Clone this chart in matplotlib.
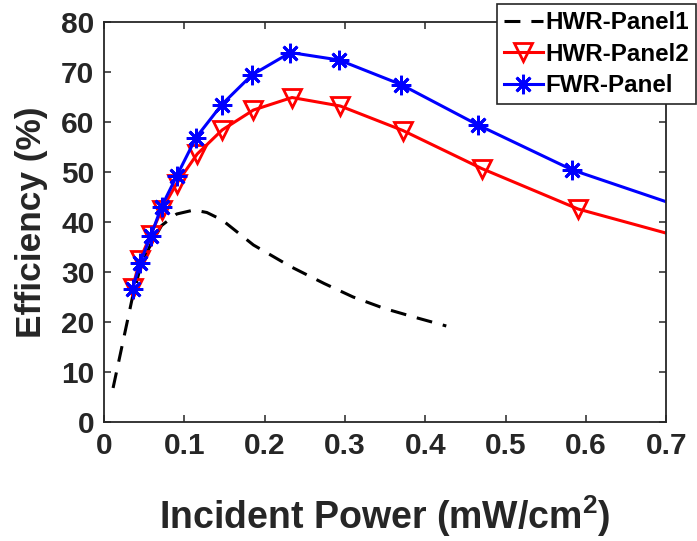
import matplotlib
matplotlib.use('Agg')
import matplotlib.pyplot as plt

plt.rcParams['font.family'] = ['Liberation Sans', 'DejaVu Sans']
plt.rcParams['font.weight'] = 'bold'
plt.rcParams['mathtext.fontset'] = 'custom'
plt.rcParams['mathtext.rm'] = 'Liberation Sans:bold'
plt.rcParams['mathtext.bf'] = 'Liberation Sans:bold'

# HWR-Panel1 (dashed, no markers)
p1_x = [0.0113, 0.0355, 0.0446, 0.058, 0.0717, 0.0905, 0.112, 0.128, 0.147,
        0.186, 0.232, 0.274, 0.310, 0.349, 0.390, 0.426]
p1_y = [6.8, 25.0, 30.5, 35.5, 39.3, 41.6, 42.4, 41.9, 40.4,
        35.4, 31.1, 27.7, 25.0, 22.7, 20.8, 19.2]

# HWR-Panel2 (red, triangles)
p2_x = [0.0355, 0.0446, 0.058, 0.0717, 0.0905, 0.116, 0.147, 0.186, 0.234,
        0.294, 0.372, 0.470, 0.590, 0.740]
p2_y = [26.8, 32.4, 37.4, 42.4, 47.7, 53.6, 58.4, 62.4, 64.9,
        63.2, 58.3, 50.7, 42.6, 36.0]

# FWR-Panel (blue, asterisks)
fwr_x = [0.0355, 0.0446, 0.058, 0.0717, 0.0905, 0.1146, 0.1467, 0.184, 0.232,
         0.2925, 0.3696, 0.4655, 0.583, 0.730]
fwr_y = [26.5, 31.7, 37.1, 43.1, 49.2, 56.9, 63.5, 69.4, 73.9,
         72.4, 67.5, 59.4, 50.4, 42.4]

fig = plt.figure(figsize=(6.97, 5.41), dpi=100)
ax = fig.add_axes([0.1492, 0.2200, 0.9562 - 0.1492, 0.9593 - 0.2200])

ax.plot(p1_x, p1_y, color='black', linestyle=(0, (5.2, 3.6)), linewidth=2.2,
        label='HWR-Panel1')
ax.plot(p2_x, p2_y, color='red', linewidth=2.2, marker='v', markersize=13.5,
        markerfacecolor='none', markeredgewidth=2.0, label='HWR-Panel2')
ax.plot(fwr_x, fwr_y, color='blue', linewidth=2.2, marker=(8, 2, 0), markersize=14,
        markeredgewidth=2.0, label='FWR-Panel')

ax.set_xlim(0, 0.7)
ax.set_ylim(0, 80)
ax.set_xticks([0, 0.1, 0.2, 0.3, 0.4, 0.5, 0.6, 0.7])
ax.set_xticklabels(['0', '0.1', '0.2', '0.3', '0.4', '0.5', '0.6', '0.7'])
ax.set_yticks(range(0, 81, 10))

for s in ax.spines.values():
    s.set_color('#262626')
    s.set_linewidth(1.3)
ax.tick_params(direction='in', length=5, width=1.1, color='#262626',
               top=True, right=True, labelsize=21.5, labelcolor='#262626', pad=7)
for lab in ax.get_xticklabels() + ax.get_yticklabels():
    lab.set_fontweight('bold')

ax.set_xlabel(r'Incident Power (mW/cm$^{\mathbf{2}}$)', fontsize=27,
              fontweight='bold', color='#262626', labelpad=24)
ax.set_ylabel('Efficiency (%)', fontsize=25.4, fontweight='bold', color='#262626',
              labelpad=9)

leg = fig.legend(loc='upper right', bbox_to_anchor=(696 / 697, 1 - 4 / 541),
                 fontsize=17.4, frameon=True, fancybox=False, borderaxespad=0,
                 handlelength=1.6, handletextpad=0.1, borderpad=0.3,
                 labelspacing=0.35)
leg.get_frame().set_edgecolor('#262626')
leg.get_frame().set_linewidth(1.2)
leg.get_frame().set_alpha(1)
for t in leg.get_texts():
    t.set_fontweight('bold')

fig.savefig('out.png', dpi=100)
